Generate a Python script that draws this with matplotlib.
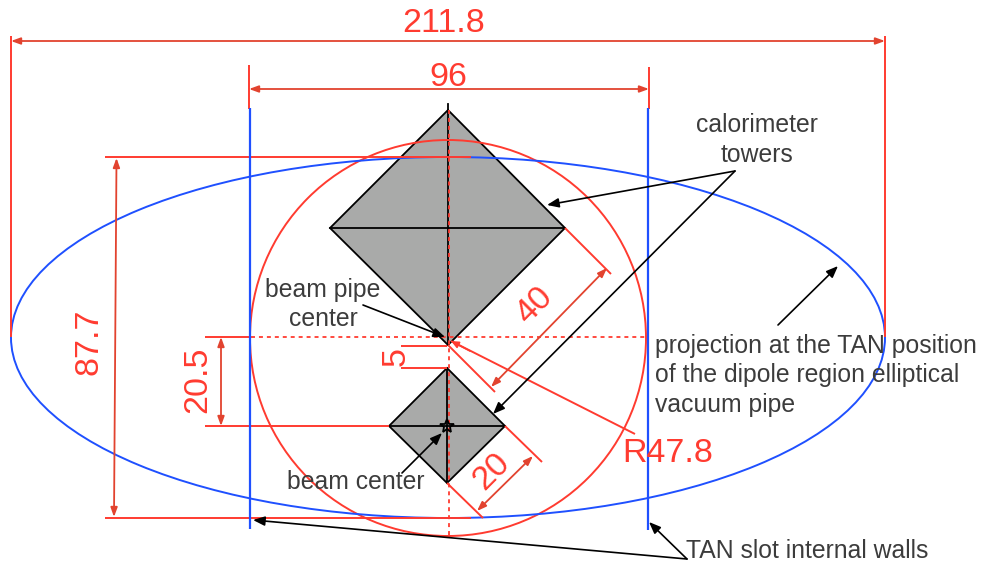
import matplotlib
matplotlib.use("Agg")
import matplotlib.pyplot as plt
from matplotlib.patches import Ellipse, Circle, Polygon

plt.rcParams['font.family'] = ['Liberation Sans', 'DejaVu Sans']

RED = '#ff3b30'
ARROW_RED = '#e2432f'
BLUE = '#1f50ff'
GRAY = '#a9aaa9'
INK = '#3c3c3c'

# geometry, in image pixels
ellipse_center = (448, 337.5)
ellipse_size = (874, 361)
circle_center = (448, 338)
circle_radius = 198
big_tower = [(448, 110), (565, 228), (448, 345), (330, 228)]
small_tower = [(447, 368), (505, 426), (447, 483), (389, 426)]
beam_center = (447, 426)

tower_lines = [
    [(330, 228), (565, 228)],
    [(448, 104), (448, 345)],
    [(389, 426), (505, 426)],
    [(447, 368), (447, 483)],
]
wall_lines = [[(249.5, 108), (249.5, 529)], [(648, 108), (648, 530)]]
red_lines = [
    [(11, 36), (11, 337)],
    [(884.5, 36), (884.5, 337)],
    [(249, 65), (249, 109)],
    [(649, 67), (649, 109)],
    [(105, 157), (471, 157)],
    [(105, 518), (471, 518)],
    [(205, 337), (251, 337)],
    [(205, 426), (389, 426)],
    [(401, 346), (447, 346)],
    [(401, 368), (447, 368)],
    [(565, 228), (611, 274)],
    [(448, 345), (495, 392)],
    [(505, 426), (542, 462)],
    [(447, 483), (483, 518)],
    [(451, 341), (635, 434)],
]
dotted_lines = [
    [(251, 337), (648, 337)],
    [(449, 110), (449, 537)],
]
double_arrows = [
    [(11, 41), (885, 41)],
    [(249, 89), (649, 89)],
    [(116.5, 158), (114, 517)],
    [(221, 337), (221, 426)],
    [(607, 268), (491, 387)],
    [(533, 456), (477, 511)],
]
black_leaders = [
    [(735, 171), (547, 205)],
    [(735, 171), (493, 414)],
    [(778, 325), (838, 266)],
    [(363, 305), (445, 337)],
    [(402, 473), (442, 433)],
    [(687, 559), (649, 522)],
    [(687, 559), (253, 520)],
]
red_labels = ['211.8', '96', '87.7', '20.5', '5', '40', '20', 'R47.8']
red_label_xy = [(444, 23), (448, 77), (89, 342), (198, 380), (396, 356),
                (535, 306), (492, 472), (668, 453)]
red_label_rot = [0, 0, 90, 90, 90, 45, 45, 0]
black_labels = ['calorimeter', 'towers', 'beam pipe', 'center', 'beam center',
                'projection at the TAN position',
                'of the dipole region elliptical',
                'vacuum pipe', 'TAN slot internal walls']
black_label_xy = [(757, 125), (757, 155), (323, 290), (323, 319), (356, 482),
                  (655, 346), (655, 375), (655, 405), (686, 551)]
black_label_ha = ['center', 'center', 'center', 'center', 'center',
                  'left', 'left', 'left', 'left']

fig = plt.figure(figsize=(9.84, 5.65), dpi=100)
ax = fig.add_axes([0, 0, 1, 1])
ax.set_xlim(0, 984)
ax.set_ylim(565, 0)
ax.axis('off')

for verts in (big_tower, small_tower):
    ax.add_patch(Polygon(verts, closed=True, facecolor=GRAY, edgecolor='black', lw=1.3, zorder=1))
for seg in tower_lines:
    ax.plot(*zip(*seg), color='black', lw=1.3, zorder=2)
ax.add_patch(Circle(circle_center, circle_radius, fill=False, edgecolor=RED, lw=1.4, zorder=3))
ax.add_patch(Ellipse(ellipse_center, *ellipse_size, fill=False, edgecolor=BLUE, lw=1.4, zorder=3))
for seg in red_lines:
    ax.plot(*zip(*seg), color=RED, lw=1.4, zorder=4, solid_capstyle='butt')
for seg in dotted_lines:
    ax.plot(*zip(*seg), color=RED, lw=1.3, ls=(0, (2.2, 2.2)), zorder=4)
for seg in wall_lines:
    ax.plot(*zip(*seg), color=BLUE, lw=1.6, zorder=4, solid_capstyle='butt')

for a, b in double_arrows:
    ax.annotate('', xy=b, xytext=a, zorder=5,
                arrowprops=dict(arrowstyle='<|-|>,head_length=0.55,head_width=0.2', color=ARROW_RED,
                                lw=1.3, shrinkA=0, shrinkB=0))
ax.annotate('', xy=(451, 341), xytext=(470, 351), zorder=5,
            arrowprops=dict(arrowstyle='-|>,head_length=0.45,head_width=0.2', color=RED,
                            lw=1.2, shrinkA=0, shrinkB=0))
for a, b in black_leaders:
    ax.annotate('', xy=b, xytext=a, zorder=6,
                arrowprops=dict(arrowstyle='-|>,head_length=0.7,head_width=0.28', color='black',
                                lw=1.2, shrinkA=0, shrinkB=0))
ax.plot(*beam_center, marker='*', ms=10, mfc='none', mec='black', mew=1.3, zorder=7)

for s, xy, r in zip(red_labels, red_label_xy, red_label_rot):
    ax.text(*xy, s, color=RED, fontsize=24.5, rotation=r, ha='center', va='center',
            zorder=8, rotation_mode='anchor')
for s, xy, ha in zip(black_labels, black_label_xy, black_label_ha):
    ax.text(*xy, s, color=INK, fontsize=17.8, ha=ha, va='center', zorder=8)

fig.savefig('out.png', dpi=100)
